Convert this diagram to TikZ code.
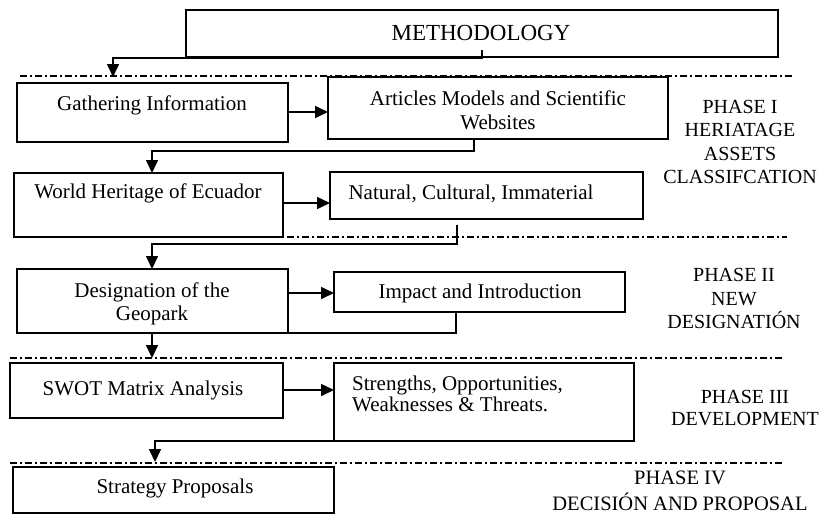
\documentclass[tikz,border=0pt]{standalone}
\usepackage{fontspec}
\setmainfont{Liberation Serif}
\usetikzlibrary{arrows.meta,calc}
\begin{document}
\begin{tikzpicture}[x=1pt,y=-1pt,
  box/.style={draw, line width=1.6pt, fill=white, inner sep=0pt, outer sep=0pt, anchor=north west},
  btxt/.style={font=\fontsize{21}{24}\selectfont, inner sep=0pt, align=center},
  ptxt/.style={font=\fontsize{20}{23.3}\selectfont, inner sep=0pt, align=center},
  sepline/.style={line width=1.1pt, dash pattern=on 7pt off 3pt on 2pt off 3pt},
  conn/.style={line width=1.6pt, -{Triangle[length=13pt,width=12pt]}},
  link/.style={line width=1.6pt}]
\useasboundingbox (0,0) rectangle (826,515);

% separators
\draw[sepline] (20,76) -- (792,76);
\draw[sepline] (287,237) -- (787,237);
\draw[sepline] (10,358) -- (782,358);
\draw[sepline] (10,463) -- (782,463);

% boxes
\node[box, minimum width=592pt, minimum height=47pt] (meth) at (186,10) {};
\node[font=\fontsize{23}{26}\selectfont, inner sep=0pt] (methT) at (481,33) {METHODOLOGY};

\node[box, minimum width=271pt, minimum height=59pt] (gi) at (17,83) {};
\node[btxt] (giT) at (152,105) {Gathering Information};

\node[box, minimum width=340pt, minimum height=62pt] (art) at (328,77) {};
\node[btxt] (artT) at (498,110) {Articles Models and Scientific\\Websites};

\node[box, minimum width=269pt, minimum height=64pt] (wh) at (14,173) {};
\node[btxt] (whT) at (148,193) {World Heritage of Ecuador};

\node[box, minimum width=313pt, minimum height=47pt] (nat) at (330,172) {};
\node[btxt] (natT) at (471,194) {Natural, Cultural, Immaterial};

\node[box, minimum width=271pt, minimum height=64pt] (des) at (17,269) {};
\node[btxt, font=\fontsize{21}{23}\selectfont] (desT) at (152,303.5) {Designation of the\\Geopark};

\node[box, minimum width=291pt, minimum height=40pt] (imp) at (334,272) {};
\node[btxt] (impT) at (480,293) {Impact and Introduction};

\node[box, minimum width=273pt, minimum height=55pt] (swot) at (10,363) {};
\node[btxt] (swotT) at (143,390) {SWOT Matrix Analysis};

\node[box, minimum width=300pt, minimum height=78pt] (str) at (334,363) {};
\node[btxt, align=left, anchor=west, font=\fontsize{21}{21}\selectfont] (strT) at (352,393.5) {Strengths, Opportunities,\\Weaknesses \& Threats.};

\node[box, minimum width=321pt, minimum height=46pt] (sp) at (13,467) {};
\node[btxt] (spT) at (175,488) {Strategy Proposals};

% phase labels
\node[ptxt] (p1) at (740,142) {PHASE I\\HERIATAGE\\ASSETS\\CLASSIFCATION};
\node[ptxt] (p2) at (734,298.5) {PHASE II\\NEW\\DESIGNATIÓN};
\node[ptxt, font=\fontsize{20}{22}\selectfont] (p3) at (745,408) {PHASE III\\DEVELOPMENT};
\node[ptxt, font=\fontsize{20.5}{26}\selectfont] (p4) at (680,491) {PHASE IV\\DECISIÓN AND PROPOSAL};

% coordinates
\coordinate (m0) at (482,50);
\coordinate (m1) at (113,77);
\coordinate (n0) at (457,225);
\coordinate (d1) at (152,358);
\coordinate (s1) at (155,462);

% connectors
\draw[conn] (m0) |- (m1 |- 0,58) -- (m1);
\draw[conn] (gi.east |- 0,112) -- (art.west |- 0,112);
\draw[conn] (art.south -| 474,0) |- (152,151) -- (wh.north -| 152,0);
\draw[conn] (wh.east |- 0,203) -- (nat.west |- 0,203);
\draw[conn] (n0) |- (152,244) -- (des.north -| 152,0);
\draw[conn] (des.east |- 0,293) -- (imp.west |- 0,293);
\draw[link] (imp.south -| 456,0) |- (des.south east);
\draw[conn] (des.south -| d1) -- (d1);
\draw[conn] (swot.east |- 0,390) -- (str.west |- 0,390);
\draw[conn] (str.south -| 461,0) -| (s1);
\end{tikzpicture}
\end{document}
